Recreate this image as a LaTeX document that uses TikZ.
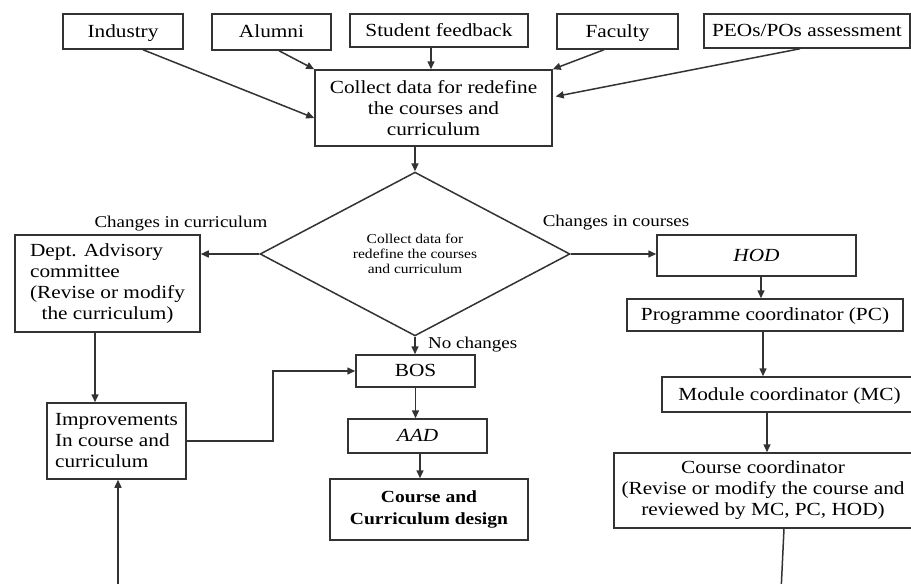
\documentclass[tikz,border=0pt]{standalone}
\usepackage{fontspec}
\setmainfont{Liberation Serif}[FakeStretch=1.15]
\usetikzlibrary{arrows.meta,shapes.geometric,calc}
\newcommand\boxfont{\fontsize{18.5}{21}\selectfont}
\newcommand\lblfont{\fontsize{16.5}{19}\selectfont}
\newcommand\diafont{\fontsize{13.5}{15}\selectfont}
\newcommand\desfont{\fontsize{17}{22}\selectfont\bfseries}
\begin{document}
\begin{tikzpicture}[x=1pt,y=-1pt,
  box/.style={draw=black!80, line width=1.5pt, rectangle, inner sep=0pt, font=\boxfont, text=black},
  one/.style={text height=14pt, text depth=3pt},
  arr/.style={draw=black!80, line width=1.5pt, -{Triangle[length=8pt,width=7pt]}},
  link/.style={draw=black!80, line width=1.5pt},
  lbl/.style={font=\lblfont, inner sep=0pt, text=black}]
\fill[white] (0,0) rectangle (911,584);
\clip (0,0) rectangle (911,584);

% sources of input
\node[box, one, minimum width=120pt, minimum height=35pt] (ind) at (123,31.5) {Industry};
\node[box, one, minimum width=119pt, minimum height=36pt] (alu) at (271.5,32) {Alumni};
\node[box, one, minimum width=178pt, minimum height=33pt] (stu) at (439,30.5) {Student feedback};
\node[box, one, minimum width=121pt, minimum height=35pt] (fac) at (617.5,31.5) {Faculty};
\node[box, one, minimum width=206pt, minimum height=34pt] (peo) at (807,31) {PEOs/POs assessment};

% data collection
\node[box, minimum width=237pt, minimum height=76pt, align=center] (col) at (433.5,108)
  {Collect data for redefine\\the courses and\\curriculum};

% decision
\node[draw=black!80, line width=1.5pt, diamond, minimum width=310pt, minimum height=141pt,
  inner sep=0pt, font=\diafont, align=center] (dia) at (415,254)
  {Collect data for\\redefine the courses\\and curriculum};

% curriculum branch
\node[box, minimum width=185pt, minimum height=97pt] (dept) at (107.5,283.5)
  {\begin{tabular}{@{}l@{}}Dept. Advisory\\committee\\
   \multicolumn{1}{@{}c@{}}{(Revise or modify}\\
   \multicolumn{1}{@{}c@{}}{the curriculum)}\end{tabular}};
\node[box, minimum width=139pt, minimum height=76pt, align=left] (imp) at (116.5,441)
  {Improvements\\In course and\\curriculum};

% no-change branch
\node[box, one, minimum width=119pt, minimum height=32pt] (bos) at (415.5,371) {BOS};
\node[box, one, minimum width=139pt, minimum height=34pt] (aad) at (417.5,436) {\itshape AAD};
\node[box, minimum width=198pt, minimum height=61pt, align=center, font=\desfont] (des) at (429,509.5)
  {Course and\\Curriculum design};

% course branch
\node[box, one, minimum width=199pt, minimum height=41pt] (hod) at (756.5,255.5) {\itshape HOD};
\node[box, one, minimum width=276pt, minimum height=32pt] (pc) at (765,315) {Programme coordinator (PC)};
\node[box, one, minimum width=255pt, minimum height=35pt] (mc) at (789.5,394.5) {Module coordinator (MC)};
\node[box, minimum width=298pt, minimum height=75pt, align=center] (cc) at (763,490.5)
  {Course coordinator\\(Revise or modify the course and\\reviewed by MC, PC, HOD)};

% branch labels
\node[lbl] (lcur) at (181,224) {Changes in curriculum};
\node[lbl] (lcou) at (616,223) {Changes in courses};
\node[lbl, anchor=west] (lno) at (428,345) {No changes};

% free ends leaving the lower edge
\coordinate (ccout) at (781,592);
\coordinate (impin) at (118,592);

% connectors
\draw[arr] ([xshift=20pt]ind.south) -- ([yshift=-10pt]col.west);
\draw[arr] ([xshift=7.5pt]alu.south) -- (col.north west);
\draw[arr] ([xshift=-8pt]stu.south) -- ([xshift=-8pt]stu.south |- col.north);
\draw[arr] ([xshift=-13.5pt]fac.south) -- (col.north east);
\draw[arr, shorten >=3pt] ([xshift=-7pt]peo.south) -- ([yshift=11pt]col.east);
\draw[arr] (dia.north |- col.south) -- (dia.north);
\draw[arr] (dia.west) -- (dia.west -| dept.east);
\draw[arr] (dia.east) -- (dia.east -| hod.west);
\draw[arr] ([xshift=4.5pt]hod.south) -- ([xshift=4.5pt]hod.south |- pc.north);
\draw[arr] ([xshift=-2pt]pc.south) -- ([xshift=-2pt]pc.south |- mc.north);
\draw[arr] ([xshift=4pt]cc.north |- mc.south) -- ([xshift=4pt]cc.north);
\draw[link] ([xshift=21pt]cc.south) -- (ccout);
\draw[arr] (dia.south) -- (dia.south |- bos.north);
\draw[arr] (bos.south) -- (bos.south |- aad.north);
\draw[arr] ([xshift=2.5pt]aad.south) -- ([xshift=2.5pt]aad.south |- des.north);
\draw[arr] ([xshift=-12.5pt]dept.south) -- ([xshift=-12.5pt]dept.south |- imp.north);
\draw[arr] (imp.east) -- ++(86,0) |- (bos.west);
\draw[arr] (impin) -- (impin |- imp.south);
\end{tikzpicture}
\end{document}
